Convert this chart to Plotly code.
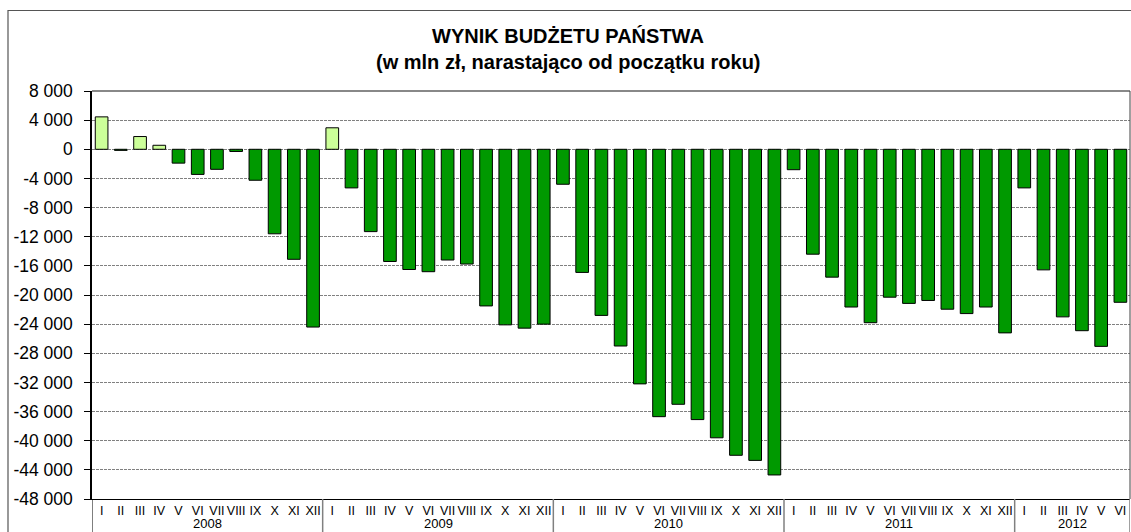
import plotly.graph_objects as go

years = ["2008", "2009", "2010", "2011", "2012"]
months = ["I", "II", "III", "IV", "V", "VI", "VII", "VIII", "IX", "X", "XI", "XII"]

v2008 = [4450, -150, 1750, 550, -1900, -3450, -2750, -300, -4250, -11600, -15100, -24400]
v2009 = [2950, -5300, -11300, -15400, -16500, -16800, -15200, -15750, -21500, -24100, -24550, -24000]
v2010 = [-4800, -16900, -22800, -27000, -32200, -36700, -35000, -37100, -39600, -42000, -42700, -44700]
v2011 = [-2800, -14400, -17550, -21650, -23800, -20300, -21150, -20750, -21950, -22550, -21650, -25200]
v2012 = [-5300, -16550, -23000, -24900, -27050, -21000]

y_ticks = [8000, 4000, 0, -4000, -8000, -12000, -16000, -20000, -24000,
           -28000, -32000, -36000, -40000, -44000, -48000]
y_tick_text = ["8 000", "4 000", "0", "-4 000", "-8 000", "-12 000", "-16 000", "-20 000",
               "-24 000", "-28 000", "-32 000", "-36 000", "-40 000", "-44 000", "-48 000"]

series = [v2008, v2009, v2010, v2011, v2012]
values = [v for s in series for v in s]
labels = [months[i] for s in series for i in range(len(s))]
xs = list(range(len(values)))

POS = "#CCFF99"
NEG = "#009900"
colors = [POS if v > 0 else NEG for v in values]

fig = go.Figure()
fig.add_trace(go.Bar(
    x=xs, y=values, width=0.66,
    marker=dict(color=colors, line=dict(color="#000000", width=1)),
    showlegend=False,
))

FONT = "Liberation Sans, Arial, sans-serif"

shapes = []
annotations = []
start = 0
for yr, s in zip(years, series):
    n = len(s)
    left = start - 0.5
    right = start + n - 0.5
    annotations.append(dict(
        x=(left + right) / 2, y=-0.059, xref="x", yref="paper",
        text=yr, showarrow=False, xanchor="center", yanchor="middle",
        font=dict(family=FONT, size=13, color="#000000"),
    ))
    shapes.append(dict(type="line", xref="x", yref="paper",
                       x0=right, x1=right, y0=0, y1=-0.09,
                       line=dict(color="#808080", width=1.5)))
    start += n

shapes.append(dict(type="line", xref="x", yref="paper", x0=-0.5, x1=-0.5,
                   y0=0, y1=-0.09, line=dict(color="#000000", width=1)))
shapes.append(dict(type="line", xref="paper", yref="paper", x0=0, x1=1,
                   y0=1, y1=1, line=dict(color="#606060", width=1.5)))
shapes.append(dict(type="line", xref="paper", yref="paper", x0=1, x1=1,
                   y0=0, y1=1, line=dict(color="#404040", width=1)))
shapes.append(dict(type="rect", xref="paper", yref="paper",
                   x0=(8 - 92) / 1038, x1=1.05, y0=-0.2, y1=(499 - 10.5) / 408,
                   line=dict(color="#555555", width=1.2)))

annotations.append(dict(
    x=(568 - 92) / 1038, y=(499 - 36) / 408, xref="paper", yref="paper",
    text="WYNIK BUDŻETU PAŃSTWA", showarrow=False, xanchor="center", yanchor="middle",
    font=dict(family=FONT, size=20, color="#000000", weight="bold"),
))
annotations.append(dict(
    x=(568 - 92) / 1038, y=(499 - 62) / 408, xref="paper", yref="paper",
    text="(w mln zł, narastająco od początku roku)", showarrow=False,
    xanchor="center", yanchor="middle",
    font=dict(family=FONT, size=20, color="#000000", weight="bold"),
))

fig.update_layout(
    width=1131, height=532, autosize=False,
    margin=dict(l=92, r=1, t=91, b=33, pad=0),
    paper_bgcolor="#ffffff", plot_bgcolor="#ffffff",
    shapes=shapes, annotations=annotations,
    xaxis=dict(
        range=[-0.5, len(values) - 0.5],
        tickmode="array", tickvals=xs, ticktext=labels,
        showgrid=False, zeroline=False,
        showline=True, linecolor="#000000", linewidth=1,
        ticks="", tickangle=0,
        tickfont=dict(family=FONT, size=12.5, color="#000000"),
        fixedrange=True,
    ),
    yaxis=dict(
        range=[-48000, 8000],
        tickmode="array", tickvals=y_ticks, ticktext=y_tick_text,
        showgrid=True, gridcolor="#808080", gridwidth=1, griddash="3px,1px",
        zeroline=False,
        showline=True, linecolor="#000000", linewidth=1.5,
        ticks="outside", ticklen=6, tickcolor="#000000",
        ticklabelstandoff=8,
        tickfont=dict(family=FONT, size=17.5, color="#000000"),
        fixedrange=True,
    ),
)

fig.write_html(
    "out.html",
    config={"displayModeBar": False},
    post_script="document.body.style.margin='0';document.body.style.overflow='hidden';",
)
